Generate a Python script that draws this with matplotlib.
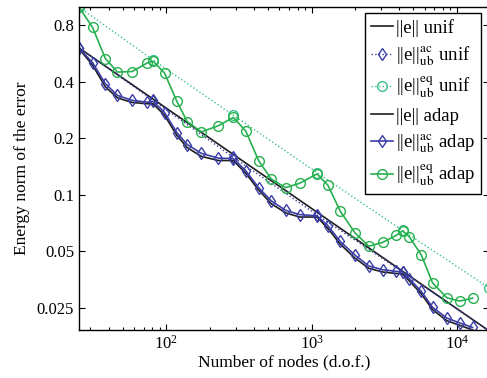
import matplotlib
matplotlib.use("Agg")
import matplotlib.pyplot as plt
import numpy as np

plt.rcParams["font.family"] = ["Liberation Serif", "DejaVu Serif"]
plt.rcParams["mathtext.fontset"] = "stix"

# uniform refinement (nodes)
n_unif = [25, 81, 289, 1089, 4225, 16641]
err_unif = [0.605, 0.323, 0.1637, 0.0806, 0.0391, 0.0188]
ac_unif = [0.608, 0.318, 0.158, 0.078, 0.0388, 0.0188]
eq_unif = [1.0, 0.522, 0.265, 0.131, 0.0645, 0.0319]

# adaptive refinement (nodes)
n_adap = [25, 31, 38, 46, 58, 74, 81, 97, 118, 139, 174, 228, 289, 352, 431,
          527, 662, 826, 1089, 1296, 1573, 1981, 2473, 3090, 3827, 4225,
          4702, 5690, 6797, 8531, 10490, 12830]
err_adap = [0.600, 0.490, 0.375, 0.328, 0.310, 0.305, 0.305, 0.265, 0.207,
            0.178, 0.160, 0.152, 0.152, 0.130, 0.106, 0.0895, 0.080, 0.076,
            0.076, 0.066, 0.0545, 0.046, 0.0405, 0.0387, 0.0380, 0.0378,
            0.0347, 0.0296, 0.0244, 0.0213, 0.0201, 0.0190]
ac_adap = [0.605, 0.505, 0.390, 0.338, 0.318, 0.311, 0.314, 0.274, 0.214,
           0.185, 0.166, 0.1565, 0.1556, 0.134, 0.109, 0.0927, 0.0825,
           0.0783, 0.0771, 0.0682, 0.0563, 0.0477, 0.0417, 0.0398, 0.0390,
           0.0387, 0.0357, 0.0305, 0.0251, 0.0220, 0.0207, 0.0196]
eq_adap = [1.0, 0.778, 0.531, 0.450, 0.453, 0.504, 0.514, 0.445, 0.314,
           0.245, 0.216, 0.233, 0.258, 0.218, 0.152, 0.121, 0.109, 0.115,
           0.129, 0.112, 0.0817, 0.0628, 0.0531, 0.0557, 0.0607, 0.0641,
           0.0597, 0.0477, 0.0339, 0.0282, 0.0271, 0.0281]

y_ticks = [0.025, 0.05, 0.1, 0.2, 0.4, 0.8]
y_tick_labels = ["0.025", "0.05", "0.1", "0.2", "0.4", "0.8"]

blue = "#3a3ea6"
green = "#27b04f"
green_light = "#3cc08c"
dark = "#1e1e1e"

ac = r"$^{\mathrm{ac}}_{\mathrm{ub}}$"
eq = r"$^{\mathrm{eq}}_{\mathrm{ub}}$"

fig = plt.figure(figsize=(4.87, 3.78), dpi=100)
ax = fig.add_axes([79 / 487, 48 / 378, 410 / 487, 323 / 378])

ax.loglog(n_unif, err_unif, "-", color=dark, lw=1.2, label="||e|| unif")
ax.loglog(n_unif, ac_unif, ":", color=blue, lw=1.0, marker="d", ms=6.5,
          mfc="none", mew=1.0, label="||e||" + ac + " unif")
ax.loglog(n_unif, eq_unif, ":", color=green_light, lw=1.0, marker="o", ms=7,
          mfc="none", mew=1.0, label="||e||" + eq + " unif")
ax.loglog(n_adap, err_adap, "-", color=dark, lw=1.2, label="||e|| adap")
ax.loglog(n_adap, ac_adap, "-", color=blue, lw=1.2, marker="d", ms=6.5,
          mfc="none", mew=1.0, label="||e||" + ac + " adap")
ax.loglog(n_adap, eq_adap, "-", color=green, lw=1.2, marker="o", ms=7,
          mfc="none", mew=1.0, label="||e||" + eq + " adap")

ax.set_xlim(25, 16641)
ax.set_ylim(0.019, 1.0)
ax.set_yticks(y_ticks)
ax.set_yticklabels(y_tick_labels)
ax.yaxis.set_minor_locator(matplotlib.ticker.NullLocator())

ax.tick_params(which="both", direction="in", top=True, right=True, labelsize=12)
ax.tick_params(which="major", length=4, width=0.8)
ax.tick_params(which="minor", length=2.5, width=0.8)
for s in ax.spines.values():
    s.set_linewidth(1.0)

ax.set_xlabel("Number of nodes (d.o.f.)", fontsize=12.5, labelpad=1)
ax.set_ylabel("Energy norm of the error", fontsize=12.5, labelpad=5)

leg = ax.legend(loc="upper right", bbox_to_anchor=(0.980, 0.981), borderaxespad=0,
                fontsize=13.5, fancybox=False, framealpha=1, edgecolor="black",
                handlelength=1.2, handletextpad=0.15, labelspacing=0.4,
                borderpad=0.3)
leg.get_frame().set_linewidth(1.0)

plt.savefig("out.png", dpi=100)
